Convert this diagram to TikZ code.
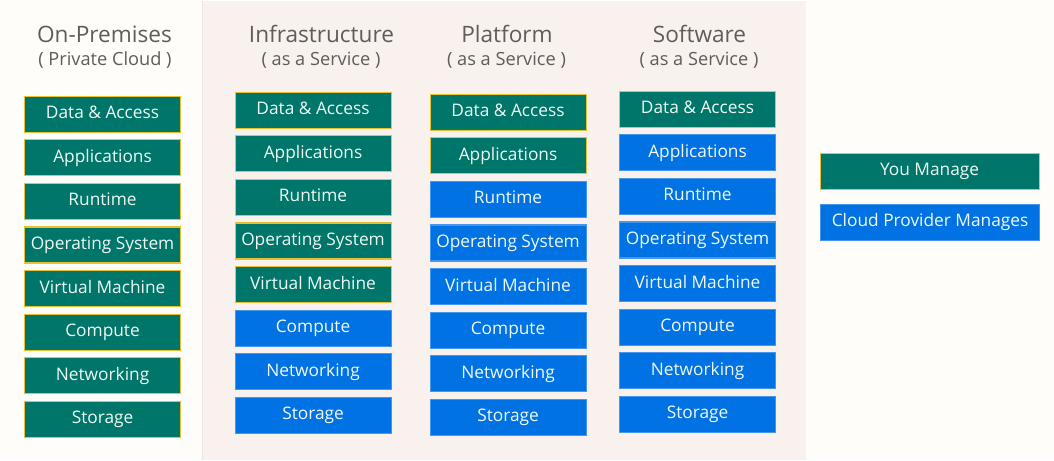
\documentclass[tikz,border=0pt]{standalone}
\usepackage{fontspec}
\setmainfont{Open Sans}
\definecolor{pagebg}{RGB}{254,253,249}
\definecolor{panelbg}{RGB}{248,241,238}
\definecolor{paneledge}{RGB}{236,230,226}
\definecolor{titlec}{RGB}{96,92,90}
\definecolor{tealc}{RGB}{0,117,106}
\definecolor{goldc}{RGB}{232,192,48}
\definecolor{bluec}{RGB}{0,114,228}
\definecolor{blueb}{RGB}{70,150,235}
\definecolor{boxtext}{RGB}{240,250,245}
\begin{document}
\begin{tikzpicture}[x=1pt,y=-1pt,
  box/.style={minimum width=156pt, minimum height=36pt, inner sep=0pt, anchor=north west,
    font=\fontsize{17.3}{20}\selectfont, text=boxtext, line width=1.1pt,
    text height=12.5pt, text depth=3.5pt},
  T/.style={box, fill=tealc, draw=goldc},
  B/.style={box, fill=bluec, draw=blueb},
  title/.style={anchor=base, text=titlec, font=\fontsize{22.6}{26}\selectfont},
  sub/.style={anchor=base, text=titlec, font=\fontsize{18.2}{22}\selectfont}]
\fill[pagebg] (0,0) rectangle (1054,459);
\fill[panelbg] (202,0) rectangle (806,459);
\draw[paneledge, line width=1.2pt] (202.6,0) -- (202.6,459);
\useasboundingbox (0,0) rectangle (1054,459);

\node[title] (t1) at (104.5,42) {On-Premises};
\node[sub] (s1) at (105,65) {( Private Cloud )};
\node[title] (t2) at (321.5,42) {Infrastructure};
\node[sub] (s2) at (321,65) {( as a Service )};
\node[title] (t3) at (507,42) {Platform};
\node[sub] (s3) at (506.5,65) {( as a Service )};
\node[title] (t4) at (699.5,42) {Software};
\node[sub] (s4) at (699,65) {( as a Service )};

\foreach \t/\a/\b/\c/\d [count=\i] in {
  Data \& Access/T/T/T/T,
  Applications/T/T/T/B,
  Runtime/T/T/B/B,
  Operating System/T/T/B/B,
  Virtual Machine/T/T/B/B,
  Compute/T/B/B/B,
  Networking/T/B/B/B,
  Storage/T/B/B/B}{
  \node[\a] (op\i) at (24,{95+43.6*(\i-1)}) {\t};
  \node[\b] (ia\i) at (234.5,{91+43.6*(\i-1)}) {\t};
  \node[\c] (pa\i) at (429.5,{93+43.6*(\i-1)}) {\t};
  \node[\d] (sa\i) at (619,{90+43.6*(\i-1)}) {\t};
}

\node[T, minimum width=219pt] (lg1) at (819.5,152) {You Manage};
\node[B, minimum width=219pt] (lg2) at (820,203) {Cloud Provider Manages};
\end{tikzpicture}
\end{document}
